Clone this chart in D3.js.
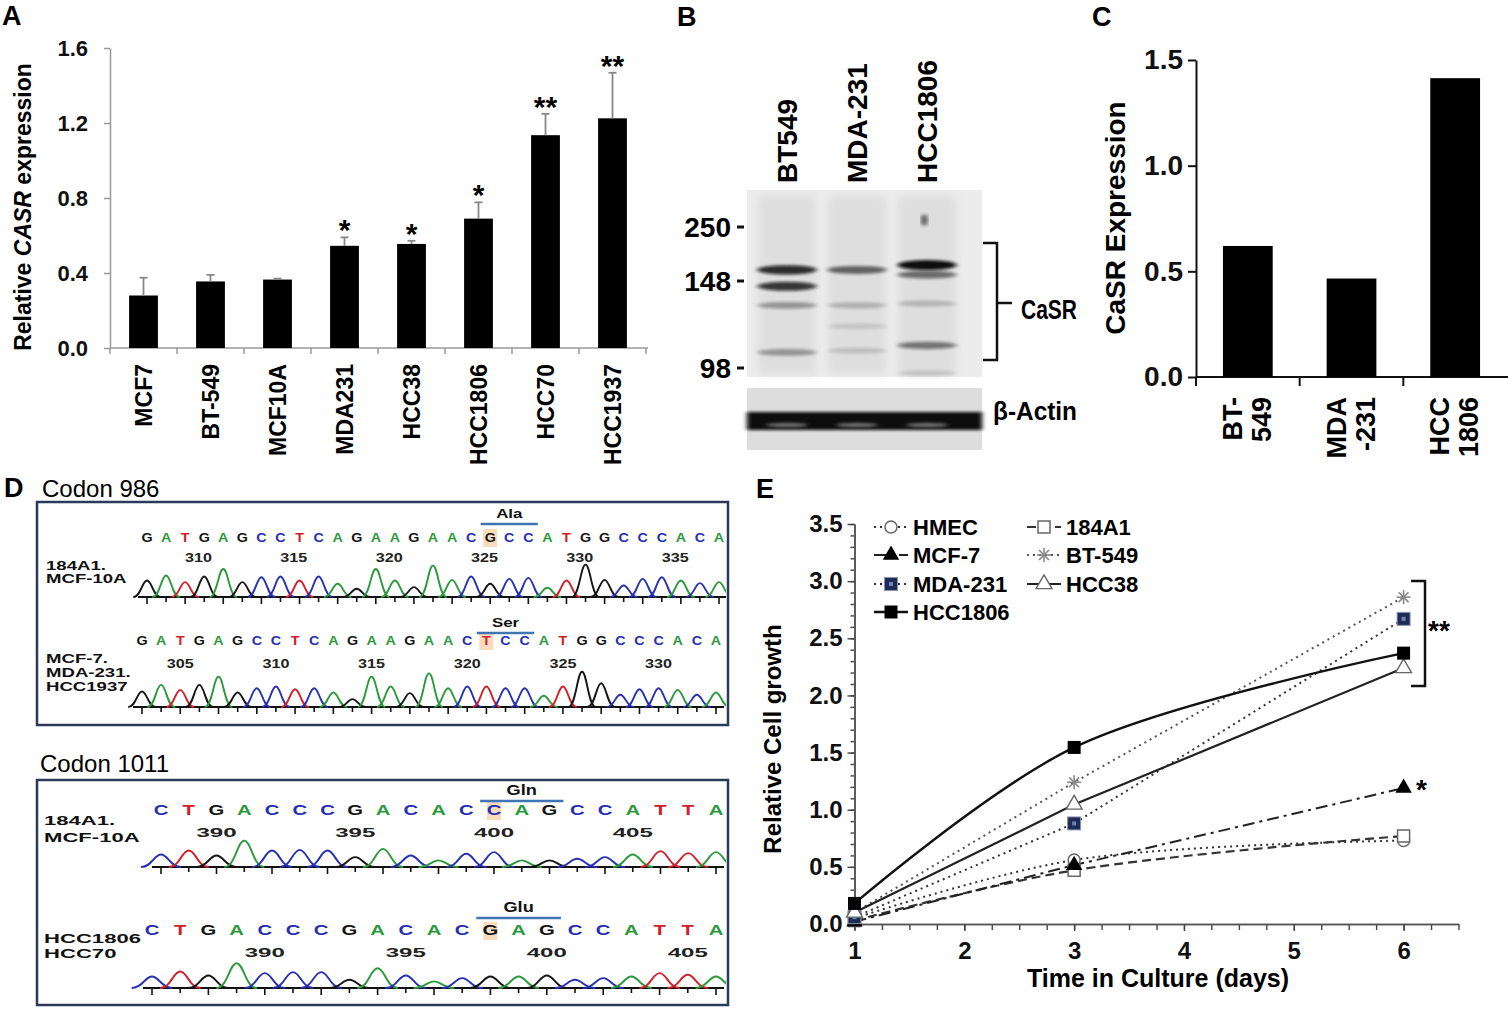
<!DOCTYPE html>
<html lang="en">
<head>
<meta charset="UTF-8">
<title>CaSR in breast cancer cell lines</title>
<script src="https://d3js.org/d3.v7.min.js"></script>
<style>
  body { margin: 0; background: #fff; }
  svg { display: block; font-family: "Liberation Sans", Arial, sans-serif; }
</style>
</head>
<body>
<svg width="1508" height="1014"></svg>
<script>
// ---------- Panel A: relative CASR expression (qPCR)
const aCells = ["MCF7", "BT-549", "MCF10A", "MDA231", "HCC38", "HCC1806", "HCC70", "HCC1937"];
const aMeans = [0.28, 0.355, 0.365, 0.545, 0.555, 0.69, 1.135, 1.225];
const aErr   = [0.095, 0.035, 0.005, 0.045, 0.017, 0.087, 0.114, 0.243];
const aStars = ["", "", "", "*", "*", "*", "**", "**"];
const aTicks = [0, 0.4, 0.8, 1.2, 1.6];

// ---------- Panel B: western blot
const bLanes = ["BT549", "MDA-231", "HCC1806"];
const bMarkers = [250, 148, 98];
// [lane, apparent size (kDa), darkness 0-1]
const bBands = [
  ["BT549", 169, 0.85], ["BT549", 145, 0.8], ["BT549", 134, 0.35], ["BT549", 107, 0.35],
  ["MDA-231", 169, 0.6], ["MDA-231", 134, 0.22], ["MDA-231", 122, 0.12], ["MDA-231", 108, 0.15],
  ["HCC1806", 178, 1.0], ["HCC1806", 160, 0.55], ["HCC1806", 135, 0.2], ["HCC1806", 111, 0.5], ["HCC1806", 95, 0.15]
];

// ---------- Panel C: CaSR densitometry
const cCells = ["BT-549", "MDA-231", "HCC1806"];
const cLabels = [["BT-", "549"], ["MDA", "-231"], ["HCC", "1806"]];
const cValues = [0.62, 0.466, 1.414];
const cTicks = [0, 0.5, 1.0, 1.5];

// ---------- Panel D: sequencing traces
const seq986wt  = "GATGAGCCTCAGAAGAACGCCATGGCCCACA";
const seq986mut = "GATGAGCCTCAGAAGAACTCCATGGCCCACA";
const peaks986wt  = [50, 65, 45, 62, 85, 45, 60, 62, 50, 62, 40, 25, 85, 50, 30, 95, 52, 62, 40, 55, 58, 28, 50, 98, 52, 35, 55, 60, 50, 42, 45];
const peaks986mut = [47, 67, 52, 67, 92, 44, 57, 62, 54, 57, 44, 24, 92, 62, 42, 102, 57, 62, 62, 57, 57, 34, 62, 107, 72, 37, 54, 57, 52, 37, 44];
const nums986wt  = [310, 315, 320, 325, 330, 335];
const nums986mut = [305, 310, 315, 320, 325, 330];
const seq1011wt  = "CTGACCCGACACCAGCCATTA";
const seq1011mut = "CTGACCCGACACGAGCCATTA";
const peaks1011wt  = [38, 50, 35, 80, 50, 52, 50, 30, 55, 35, 20, 40, 45, 20, 20, 25, 30, 38, 48, 42, 45];
const peaks1011mut = [35, 50, 38, 75, 45, 48, 48, 25, 60, 38, 20, 30, 35, 35, 38, 25, 30, 35, 45, 40, 35];
const nums1011 = [390, 395, 400, 405];

// ---------- Panel E: growth curves
const eDays = [1, 3, 6];
const eNames = ["HMEC", "184A1", "MCF-7", "BT-549", "MDA-231", "HCC38", "HCC1806"];
const eHMEC    = [0.05, 0.56, 0.73];
const e184A1   = [0.03, 0.47, 0.77];
const eMCF7    = [0.02, 0.515, 1.19];
const eBT549   = [0.10, 1.24, 2.86];
const eMDA231  = [0.06, 0.88, 2.67];
const eHCC38   = [0.10, 1.045, 2.24];
const eHCC1806 = [0.18, 1.545, 2.37];

const svg = d3.select("svg");
svg.append("rect").attr("width", 1508).attr("height", 1014).attr("fill", "#fff");

const defs = svg.append("defs");
defs.append("filter").attr("id", "blur2").attr("x", "-20%").attr("y", "-100%").attr("width", "140%").attr("height", "300%")
  .append("feGaussianBlur").attr("stdDeviation", "2.5 1.8");
defs.append("filter").attr("id", "blur4").append("feGaussianBlur").attr("stdDeviation", 4);
// traces stay inside the sequencing boxes
defs.append("clipPath").attr("id", "boxClip")
  .append("rect").attr("x", 39).attr("y", 0).attr("width", 687).attr("height", 1014);

function panelLabel(t, x, y) {
  svg.append("text").attr("x", x).attr("y", y).attr("font-size", 27).attr("font-weight", "bold").text(t);
}
panelLabel("A", 2, 25);
panelLabel("B", 677, 26);
panelLabel("C", 1092, 26);
panelLabel("D", 4, 497);
panelLabel("E", 756, 498);

// ===================== Panel A =====================
const xA = d3.scaleBand().domain(aCells).range([110, 646]).paddingInner(0.57).paddingOuter(0.285);
const yA = d3.scaleLinear().domain([0, 1.6]).range([348, 48]);
const gA = svg.append("g");

const axA = gA.append("g").attr("transform", "translate(110,0)")
  .call(d3.axisLeft(yA).tickValues(aTicks).tickFormat(d3.format(".1f")).tickSize(6).tickSizeOuter(0).tickPadding(16));
axA.select(".domain").attr("stroke", "#9a9a9a").attr("stroke-width", 1.5);
axA.selectAll(".tick line").attr("stroke", "#9a9a9a").attr("stroke-width", 1.5);
axA.selectAll(".tick text").attr("font-size", 22).attr("font-weight", "bold").attr("fill", "#111")
  .attr("font-family", "Liberation Sans, Arial, sans-serif");

gA.append("line").attr("x1", 110).attr("x2", 648).attr("y1", yA(0)).attr("y2", yA(0))
  .attr("stroke", "#9a9a9a").attr("stroke-width", 1.5);
gA.selectAll(".catTick").data(d3.range(aCells.length + 1)).join("line")
  .attr("x1", i => 110 + i * xA.step()).attr("x2", i => 110 + i * xA.step())
  .attr("y1", yA(0)).attr("y2", yA(0) + 6).attr("stroke", "#9a9a9a").attr("stroke-width", 1.5);

gA.selectAll(".bar").data(aCells).join("rect")
  .attr("x", d => xA(d)).attr("width", xA.bandwidth())
  .attr("y", (d, i) => yA(aMeans[i])).attr("height", (d, i) => yA(0) - yA(aMeans[i]))
  .attr("fill", "#000");

aCells.forEach((d, i) => {
  const cx = xA(d) + xA.bandwidth() / 2;
  const top = yA(aMeans[i] + aErr[i]);
  gA.append("line").attr("x1", cx).attr("x2", cx).attr("y1", yA(aMeans[i])).attr("y2", top)
    .attr("stroke", "#888").attr("stroke-width", 1.8);
  gA.append("line").attr("x1", cx - 4).attr("x2", cx + 4).attr("y1", top).attr("y2", top)
    .attr("stroke", "#888").attr("stroke-width", 1.8);
  if (aStars[i]) {
    gA.append("text").attr("x", cx).attr("y", top + 3).attr("text-anchor", "middle")
      .attr("font-size", 30).attr("font-weight", "bold").text(aStars[i]);
  }
  gA.append("text").attr("transform", `translate(${cx + 8},364) rotate(-90)`)
    .attr("text-anchor", "end").attr("font-size", 23).attr("font-weight", "bold").text(d);
});

const aTitle = gA.append("text").attr("transform", "translate(31,207) rotate(-90)")
  .attr("text-anchor", "middle").attr("font-size", 23).attr("font-weight", "bold");
aTitle.append("tspan").text("Relative ");
aTitle.append("tspan").attr("font-style", "italic").text("CASR");
aTitle.append("tspan").text(" expression");

// ===================== Panel B =====================
const gB = svg.append("g");
const xB = d3.scaleBand().domain(bLanes).range([752, 962]).paddingInner(0.18).paddingOuter(0.09);
const yB = d3.scaleLinear().domain(bMarkers).range([227, 281, 368]);

gB.append("rect").attr("x", 747).attr("y", 190).attr("width", 235).attr("height", 187).attr("fill", "#ececec");
gB.selectAll(".lane").data(bLanes).join("rect")
  .attr("x", d => xB(d)).attr("width", xB.bandwidth()).attr("y", 196).attr("height", 178)
  .attr("fill", "#dedede").attr("filter", "url(#blur4)");
gB.selectAll(".band").data(bBands).join("ellipse")
  .attr("cx", d => xB(d[0]) + xB.bandwidth() / 2).attr("cy", d => yB(d[1]))
  .attr("rx", xB.bandwidth() / 2 + 1).attr("ry", d => 2.5 + d[2] * 2.5)
  .attr("fill", "#0a0a0a").attr("opacity", d => d[2]).attr("filter", "url(#blur2)");
// spot above HCC1806 lane
gB.append("ellipse").attr("cx", xB("HCC1806") + 26).attr("cy", yB(263)).attr("rx", 3).attr("ry", 6)
  .attr("fill", "#222").attr("opacity", 0.8).attr("filter", "url(#blur2)");

// beta-actin strip
gB.append("rect").attr("x", 747).attr("y", 388).attr("width", 235).attr("height", 62).attr("fill", "#dddddd");
gB.append("rect").attr("x", 747).attr("y", 412).attr("width", 235).attr("height", 18).attr("fill", "#0d0d0d")
  .attr("filter", "url(#blur2)");
gB.selectAll(".actinGap").data(bLanes).join("ellipse")
  .attr("cx", d => xB(d) + xB.bandwidth() / 2).attr("cy", 425).attr("rx", xB.bandwidth() / 2 - 8).attr("ry", 2)
  .attr("fill", "#777").attr("filter", "url(#blur2)");

bLanes.forEach(d => {
  gB.append("text").attr("transform", `translate(${xB(d) + xB.bandwidth() / 2 + 10},183) rotate(-90)`)
    .attr("font-size", 28).attr("font-weight", "bold").text(d);
});
bMarkers.forEach(m => {
  gB.append("text").attr("x", 731).attr("y", yB(m) + 10).attr("text-anchor", "end")
    .attr("font-size", 28).attr("font-weight", "bold").text(m);
  gB.append("line").attr("x1", 737).attr("x2", 744).attr("y1", yB(m)).attr("y2", yB(m))
    .attr("stroke", "#111").attr("stroke-width", 3);
});
gB.append("path").attr("d", "M983,243H997V360H983M997,303H1012").attr("fill", "none")
  .attr("stroke", "#111").attr("stroke-width", 2.5);
gB.append("text").attr("x", 1021).attr("y", 319).attr("font-size", 27).attr("font-weight", "bold")
  .attr("font-family", "Liberation Sans Narrow, Arial Narrow, sans-serif")
  .attr("textLength", 56).attr("lengthAdjust", "spacingAndGlyphs").text("CaSR");
gB.append("text").attr("x", 993).attr("y", 420).attr("font-size", 26).attr("font-weight", "bold")
  .attr("font-family", "Liberation Sans Narrow, Arial Narrow, sans-serif")
  .attr("textLength", 84).attr("lengthAdjust", "spacingAndGlyphs").text("β-Actin");

// ===================== Panel C =====================
const gC = svg.append("g");
const xC = d3.scaleBand().domain(cCells).range([1196, 1507]).paddingInner(0.52).paddingOuter(0.26);
const yC = d3.scaleLinear().domain([0, 1.5]).range([377, 60]);

const axC = gC.append("g").attr("transform", "translate(1196,0)")
  .call(d3.axisLeft(yC).tickValues(cTicks).tickFormat(d3.format(".1f")).tickSize(8).tickSizeOuter(0).tickPadding(5));
axC.select(".domain").attr("stroke", "#111").attr("stroke-width", 2);
axC.selectAll(".tick line").attr("stroke", "#111").attr("stroke-width", 2);
axC.selectAll(".tick text").attr("font-size", 28).attr("font-weight", "bold").attr("fill", "#111")
  .attr("font-family", "Liberation Sans, Arial, sans-serif");
gC.append("line").attr("x1", 1196).attr("x2", 1508).attr("y1", yC(0)).attr("y2", yC(0))
  .attr("stroke", "#111").attr("stroke-width", 2);
gC.selectAll(".cTick").data(d3.range(cCells.length)).join("line")
  .attr("x1", i => 1196 + i * xC.step()).attr("x2", i => 1196 + i * xC.step())
  .attr("y1", yC(0)).attr("y2", yC(0) + 9).attr("stroke", "#111").attr("stroke-width", 2);
gC.selectAll(".bar").data(cCells).join("rect")
  .attr("x", d => xC(d)).attr("width", xC.bandwidth())
  .attr("y", (d, i) => yC(cValues[i])).attr("height", (d, i) => yC(0) - yC(cValues[i]))
  .attr("fill", "#000");
cCells.forEach((d, i) => {
  const cx = xC(d) + xC.bandwidth() / 2;
  cLabels[i].forEach((line, j) => {
    gC.append("text").attr("transform", `translate(${cx - 6 + j * 29},397) rotate(-90)`)
      .attr("text-anchor", "end").attr("font-size", 27).attr("font-weight", "bold").text(line);
  });
});
gC.append("text").attr("transform", "translate(1125,218) rotate(-90)").attr("text-anchor", "middle")
  .attr("font-size", 28).attr("font-weight", "bold").text("CaSR Expression");

// ===================== Panel D =====================
const gD = svg.append("g");
const baseColor = { A: "#2c9a3c", C: "#2630b4", G: "#151515", T: "#d2202a" };
const hD = d3.scaleLinear().domain([0, 100]).range([0, 33]);

gD.append("text").attr("x", 42).attr("y", 497).attr("font-size", 24).attr("font-weight", 500).text("Codon 986");
gD.append("text").attr("x", 40).attr("y", 772).attr("font-size", 24).attr("font-weight", 500).text("Codon 1011");
gD.append("rect").attr("x", 37).attr("y", 502).attr("width", 691).attr("height", 223)
  .attr("fill", "none").attr("stroke", "#2b3a58").attr("stroke-width", 2.5);
gD.append("rect").attr("x", 37).attr("y", 780).attr("width", 691).attr("height", 225)
  .attr("fill", "none").attr("stroke", "#2b3a58").attr("stroke-width", 2.5);

const dRows = [
  { seq: seq986wt, peaks: peaks986wt, nums: nums986wt, numShift: 307.3, codon: 18, aa: "Ala", labels: ["184A1.", "MCF-10A"] },
  { seq: seq986mut, peaks: peaks986mut, nums: nums986mut, numShift: 303, codon: 18, aa: "Ser", labels: ["MCF-7.", "MDA-231.", "HCC1937"] },
  { seq: seq1011wt, peaks: peaks1011wt, nums: nums1011, numShift: 388, codon: 12, aa: "Gln", labels: ["184A1.", "MCF-10A"] },
  { seq: seq1011mut, peaks: peaks1011mut, nums: nums1011, numShift: 386, codon: 12, aa: "Glu", labels: ["HCC1806", "HCC70"] }
];
const dLayout = [
  { x0: 147, x1: 719, aaY: 518, seqY: 542, numY: 562, labX: 46, labY: [570, 583], baseY: 597, fs: 13, lsx: 1.55, nsx: 1.35, ssx: 1.1 },
  { x0: 142, x1: 716, aaY: 627, seqY: 645, numY: 668, labX: 46, labY: [663, 677, 691], baseY: 707, fs: 13, lsx: 1.55, nsx: 1.35, ssx: 1.1 },
  { x0: 161, x1: 716, aaY: 795, seqY: 815, numY: 837, labX: 44, labY: [825, 842], baseY: 867, fs: 14, lsx: 1.7, nsx: 1.85, ssx: 1.45 },
  { x0: 152, x1: 716, aaY: 912, seqY: 935, numY: 957, labX: 44, labY: [943, 958], baseY: 988, fs: 14, lsx: 1.7, nsx: 1.85, ssx: 1.45 }
];

function stretchText(g, str, x, y, size, sx, anchor, fill) {
  return g.append("text").attr("transform", `translate(${x},${y}) scale(${sx},1)`)
    .attr("text-anchor", anchor).attr("font-size", size).attr("font-weight", "bold")
    .attr("fill", fill || "#111").text(str);
}

// one chromatogram peak: bell-shaped path centred on the base call
function peakPath(cx, base, top, hw) {
  const p = d3.path();
  p.moveTo(cx - hw, base);
  p.bezierCurveTo(cx - hw * 0.45, base, cx - hw * 0.35, top, cx, top);
  p.bezierCurveTo(cx + hw * 0.35, top, cx + hw * 0.45, base, cx + hw, base);
  return p.toString();
}

dRows.forEach((row, r) => {
  const L = dLayout[r];
  const n = row.seq.length;
  const x = d3.scaleLinear().domain([0, n - 1]).range([L.x0, L.x1]);
  const g = gD.append("g");
  const tr = g.append("g").attr("clip-path", "url(#boxClip)");
  const hw = 0.72 * (x(1) - x(0));

  // highlighted base
  g.append("rect").attr("x", x(row.codon) - 7).attr("y", L.seqY - 13).attr("width", 14).attr("height", 18)
    .attr("fill", "#f9dcbd");
  // amino-acid label and codon bar
  stretchText(g, row.aa, x(row.codon + 1), L.aaY, L.fs, 1.3, "middle");
  g.append("line").attr("x1", x(row.codon - 0.5)).attr("x2", x(row.codon + 2.5))
    .attr("y1", L.aaY + 6).attr("y2", L.aaY + 6).attr("stroke", "#3f74b5").attr("stroke-width", 2.5);
  // base calls
  row.seq.split("").forEach((b, i) => {
    stretchText(g, b, x(i), L.seqY, L.fs, L.ssx, "middle", baseColor[b]);
  });
  // position numbers
  row.nums.forEach(v => stretchText(g, v, x(v - row.numShift), L.numY, L.fs - 1, L.nsx, "middle", "#222"));
  // sample names
  row.labels.forEach((t, j) => stretchText(g, t, L.labX, L.labY[j], L.fs - 1, L.lsx, "start"));

  // baseline and ticks
  tr.append("line").attr("x1", L.x0 - 9).attr("x2", L.x1 + 8).attr("y1", L.baseY).attr("y2", L.baseY)
    .attr("stroke", "#111").attr("stroke-width", 2.2);
  tr.selectAll(".tk").data(d3.range(n)).join("line")
    .attr("x1", i => x(i)).attr("x2", i => x(i)).attr("y1", L.baseY)
    .attr("y2", i => L.baseY + (i % 2 ? 5 : 7)).attr("stroke", "#111").attr("stroke-width", 1.6);

  // peaks
  row.seq.split("").forEach((b, i) => {
    tr.append("path").attr("d", peakPath(x(i), L.baseY, L.baseY - hD(row.peaks[i]), hw))
      .attr("fill", "none").attr("stroke", baseColor[b]).attr("stroke-width", 1.9);
  });
});

// ===================== Panel E =====================
const gE = svg.append("g");
const xE = d3.scaleLinear().domain([1, 6.5]).range([854.5, 1458.5]);
const yE = d3.scaleLinear().domain([0, 3.5]).range([924, 524]);

const minorY = gE.append("g").attr("transform", "translate(854.5,0)")
  .call(d3.axisLeft(yE).tickValues(d3.range(0, 36).map(k => k / 10)).tickFormat("").tickSize(4).tickSizeOuter(0));
const majorY = gE.append("g").attr("transform", "translate(854.5,0)")
  .call(d3.axisLeft(yE).tickValues(d3.range(0, 8).map(k => k / 2)).tickFormat(d3.format(".1f")).tickSize(7).tickSizeOuter(0).tickPadding(5));
const minorX = gE.append("g").attr("transform", "translate(0,924)")
  .call(d3.axisBottom(xE).tickValues(d3.range(0, 23).map(k => 1 + k / 4)).tickFormat("").tickSize(6).tickSizeOuter(0));
const majorX = gE.append("g").attr("transform", "translate(0,924)")
  .call(d3.axisBottom(xE).tickValues([1, 2, 3, 4, 5, 6]).tickFormat(d3.format("d")).tickSize(7).tickSizeOuter(0).tickPadding(11));
[minorY, majorY, minorX, majorX].forEach(ax => {
  ax.select(".domain").attr("stroke", "#555").attr("stroke-width", 1.6);
  ax.selectAll(".tick line").attr("stroke", "#444").attr("stroke-width", 1.4);
  ax.selectAll(".tick text").attr("font-size", 24).attr("font-weight", "bold").attr("fill", "#111")
    .attr("font-family", "Liberation Sans, Arial, sans-serif");
});

gE.append("text").attr("x", 1158).attr("y", 987).attr("text-anchor", "middle")
  .attr("font-size", 25).attr("font-weight", "bold").text("Time in Culture (days)");
gE.append("text").attr("transform", "translate(781,739) rotate(-90)").attr("text-anchor", "middle")
  .attr("font-size", 24).attr("font-weight", "bold").text("Relative Cell growth");

const eValues = [eHMEC, e184A1, eMCF7, eBT549, eMDA231, eHCC38, eHCC1806];
const eStyle = {
  "HMEC":    { dash: "2,4", color: "#333", width: 2, marker: "circleOpen", smooth: true },
  "184A1":   { dash: "9,5", color: "#333", width: 2.2, marker: "squareOpen", smooth: true },
  "MCF-7":   { dash: "12,5,3,5", color: "#222", width: 2, marker: "triFilled", smooth: false },
  "BT-549":  { dash: "2,4", color: "#555", width: 2, marker: "asterisk", smooth: false },
  "MDA-231": { dash: "2,4", color: "#333", width: 2, marker: "navySquare", smooth: false },
  "HCC38":   { dash: null, color: "#222", width: 2.2, marker: "triOpen", smooth: false },
  "HCC1806": { dash: null, color: "#111", width: 2.4, marker: "squareFilled", smooth: true }
};

function drawMarker(g, type, cx, cy) {
  if (type === "circleOpen") {
    g.append("circle").attr("cx", cx).attr("cy", cy).attr("r", 6).attr("fill", "#fff").attr("stroke", "#666").attr("stroke-width", 1.5);
  } else if (type === "squareOpen") {
    g.append("rect").attr("x", cx - 6).attr("y", cy - 6).attr("width", 12).attr("height", 12).attr("fill", "#fff").attr("stroke", "#666").attr("stroke-width", 1.5);
  } else if (type === "triFilled" || type === "triOpen") {
    g.append("path").attr("transform", `translate(${cx},${cy})`)
      .attr("d", d3.symbol().type(d3.symbolTriangle).size(type === "triFilled" ? 85 : 110)())
      .attr("fill", type === "triFilled" ? "#000" : "#fff").attr("stroke", type === "triFilled" ? "#000" : "#666").attr("stroke-width", 1.4);
  } else if (type === "asterisk") {
    [0, 45, 90, 135].forEach(a => {
      g.append("line").attr("transform", `translate(${cx},${cy}) rotate(${a})`)
        .attr("x1", -7).attr("x2", 7).attr("y1", 0).attr("y2", 0).attr("stroke", "#888").attr("stroke-width", 1.6);
    });
  } else if (type === "navySquare") {
    g.append("rect").attr("x", cx - 6.5).attr("y", cy - 6.5).attr("width", 13).attr("height", 13).attr("fill", "#1d2c55").attr("stroke", "#8c96ad").attr("stroke-width", 1);
    g.append("rect").attr("x", cx - 2).attr("y", cy - 2).attr("width", 4).attr("height", 4).attr("fill", "#6f82b3");
  } else if (type === "squareFilled") {
    g.append("rect").attr("x", cx - 6.5).attr("y", cy - 6.5).attr("width", 13).attr("height", 13).attr("fill", "#000");
  }
}

eNames.forEach((name, k) => {
  const st = eStyle[name];
  const pts = eDays.map((d, i) => [d, eValues[k][i]]);
  const line = d3.line().x(d => xE(d[0])).y(d => yE(d[1]))
    .curve(st.smooth ? d3.curveCatmullRom.alpha(0.5) : d3.curveLinear);
  gE.append("path").attr("d", line(pts)).attr("fill", "none").attr("stroke", st.color)
    .attr("stroke-width", st.width).attr("stroke-dasharray", st.dash);
});
eNames.forEach((name, k) => {
  eDays.forEach((d, i) => drawMarker(gE, eStyle[name].marker, xE(d), yE(eValues[k][i])));
});

// legend: two columns
const legendCols = [874, 1027];
const legendRows = [527, 555, 584, 612];
const legendOrder = ["HMEC", "184A1", "MCF-7", "BT-549", "MDA-231", "HCC38", "HCC1806"];
legendOrder.forEach((name, k) => {
  const lx = legendCols[k % 2], ly = legendRows[Math.floor(k / 2)];
  const st = eStyle[name];
  gE.append("line").attr("x1", lx).attr("x2", lx + 34).attr("y1", ly).attr("y2", ly)
    .attr("stroke", st.color).attr("stroke-width", st.width).attr("stroke-dasharray", st.dash);
  drawMarker(gE, st.marker, lx + 17, ly);
  gE.append("text").attr("x", lx + 39).attr("y", ly + 8).attr("font-size", 22).attr("font-weight", "bold").text(name);
});

// significance marks
gE.append("path").attr("d", "M1411,581H1425V686H1411").attr("fill", "none").attr("stroke", "#111").attr("stroke-width", 2.5);
gE.append("text").attr("x", 1428).attr("y", 640).attr("font-size", 28).attr("font-weight", "bold").text("**");
gE.append("text").attr("x", 1416).attr("y", 799).attr("font-size", 28).attr("font-weight", "bold").text("*");
</script>
</body>
</html>
